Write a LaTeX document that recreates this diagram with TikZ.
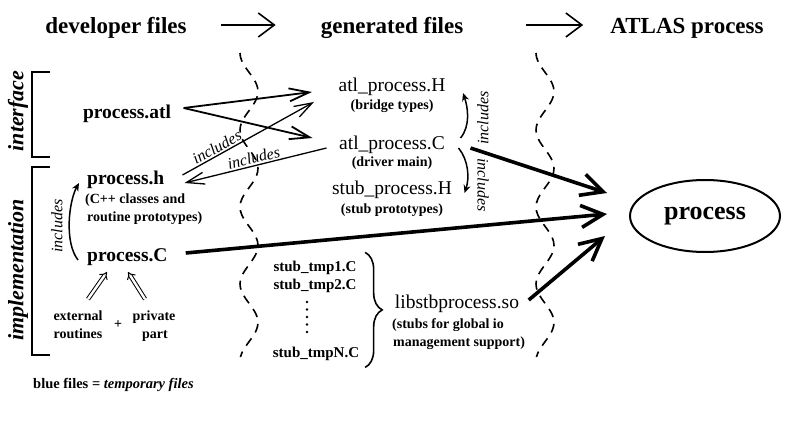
\documentclass[tikz,border=0pt]{standalone}
\usepackage{fontspec}
\setmainfont{Liberation Serif}
\usetikzlibrary{arrows.meta,shapes.geometric,calc,decorations.pathreplacing}

\tikzset{
  title/.style={font=\bfseries\fontsize{23}{26}\selectfont, inner sep=0pt, anchor=base},
  devfile/.style={font=\bfseries\fontsize{19.5}{22}\selectfont, inner sep=0pt, anchor=base},
  genfile/.style={font=\fontsize{19.5}{22}\selectfont, inner sep=0pt, anchor=base},
  note/.style={font=\bfseries\fontsize{14}{17}\selectfont, inner sep=0pt, anchor=base},
  stubfile/.style={font=\bfseries\fontsize{15}{18}\selectfont, inner sep=0pt, anchor=base},
  inclabel/.style={font=\itshape\fontsize{16}{18}\selectfont, inner sep=1.5pt},
  sidelabel/.style={font=\bfseries\itshape\fontsize{22}{24}\selectfont, rotate=90, inner sep=0pt},
  titlearrow/.style={line width=1.6pt, -{Straight Barb[length=16pt,width=24pt]}},
  filearrow/.style={line width=1.8pt, -{Straight Barb[length=20pt,width=13pt]}},
  incline/.style={line width=1.3pt, -{Straight Barb[length=18pt,width=12pt]}},
  incback/.style={line width=1.3pt, {Straight Barb[length=18pt,width=12pt]}-},
  bigarrow/.style={line width=3.6pt, -{Straight Barb[length=22pt,width=22pt]}},
  curvearrow/.style={line width=1.5pt, -{Stealth[length=8pt,width=7pt]}},
  dblarrow/.style={double, double distance=2.4pt, line width=1pt, -{Implies}},
  bracket/.style={line width=2pt},
  wave/.style={line width=1.6pt, dash pattern=on 9pt off 7pt},
  bracestyle/.style={line width=1.6pt, decorate, decoration={brace, amplitude=17pt}},
}

\begin{document}
\begin{tikzpicture}[x=1pt, y=-1pt]
\useasboundingbox (0,0) rectangle (785,425);

% column headings
\node[title] (tdev)   at (116,34) {developer files};
\node[title] (tgen)   at (392,34) {generated files};
\node[title] (tatlas) at (687,34) {ATLAS process};
\draw[titlearrow] ($(tdev.base east)+(34,-9)$) -- ($(tgen.base west)+(-45,-9)$);
\draw[titlearrow] ($(tgen.base east)+(63,-9)$) -- ($(tatlas.base west)+(-27,-9)$);

% column separators (period 77, 360/77 = 4.6753 deg per unit)
\draw[wave] plot[smooth, samples=80, domain=53:357] ({249-9*cos(4.6753*(\x-53))}, \x);
\draw[wave] plot[smooth, samples=80, domain=53:357] ({545-9*cos(4.6753*(\x-53))}, \x);

% side brackets
\draw[bracket] (50,72) -- (32,72) -- (32,157) -- (50,157);
\draw[bracket] (50,167) -- (32,167) -- (32,355) -- (50,355);
\node[sidelabel] (lint) at (18,111) {interface};
\node[sidelabel] (limp) at (18,270) {implementation};

% developer files
\node[devfile] (patl) at (127,119) {process.atl};
\node[devfile, anchor=base west] (ph) at (87,185) {process.h};
\node[note, anchor=base west] (phd1) at (85,204) {(C++ classes and};
\node[note, anchor=base west] (phd2) at (87,222) {routine prototypes)};
\node[devfile, anchor=base west] (pC) at (87,261) {process.C};
\node[note] (ext1)  at (78,320) {external};
\node[note] (ext2)  at (78,338) {routines};
\node[note] (priv1) at (154,320) {private};
\node[note] (priv2) at (155,338) {part};
\node[note, anchor=center] (plus) at (118,325) {+};

% generated files
\node[genfile] (aph) at (392,92) {atl\_process.H};
\node[note] (aphd) at (392,110) {(bridge types)};
\node[genfile] (apc) at (392,150) {atl\_process.C};
\node[note] (apcd) at (392,167) {(driver main)};
\node[genfile] (sph) at (392,195) {stub\_process.H};
\node[note] (sphd) at (392,213) {(stub prototypes)};

\node[stubfile] (s1) at (315,271) {stub\_tmp1.C};
\node[stubfile] (s2) at (315,289) {stub\_tmp2.C};
\node[stubfile] (sN) at (316,357) {stub\_tmpN.C};
\foreach \yy in {302,309.5,317,324.5,332} \fill (307,\yy) circle (1.4pt);
\draw[bracestyle] ($(s1.north east)+(8.5,-8)$) -- ($(s1.north east |- sN.south)+(8.5,7)$);

\node[genfile] (lib) at (457,308) {libstbprocess.so};
\node[note, anchor=base west] (libd1) at (392,328) {(stubs for global io};
\node[note, anchor=base west] (libd2) at (393,346) {management support)};

% target
\node[ellipse, draw, line width=2pt, minimum width=150pt, minimum height=72pt,
      inner sep=0pt, font=\bfseries\fontsize{26}{28}\selectfont] (proc) at (705,216) {process};

% legend
\node[font=\fontsize{14.5}{17}\selectfont, inner sep=0pt, anchor=base west] (legend) at (33,388)
  {\bfseries blue files = \itshape temporary files};

% process.atl generates the bridge sources
\draw[filearrow] ($(patl.base east)+(12.5,-11)$) -- ($(aph.base west)+(-26.5,0)$);
\draw[filearrow] ($(patl.base east)+(12.5,-11)$) -- ($(apc.base west)+(-26.5,-12)$);

% include relations
\draw[incline] ($(ph.base east)+(18,-10)$) -- ($(aph.base west)+(-24.5,10)$)
  node[inclabel, sloped, above, pos=0.29] (incA) {includes};
\draw[incback] ($(ph.base east)+(20,-2)$) -- ($(apc.base west)+(-12.5,-2)$)
  node[inclabel, sloped, above, pos=0.5] (incB) {includes};

\draw[curvearrow] ($(pC.base west)+(-9,-1)$) .. controls +(-14,-18) and +(-10,18) .. ($(ph.base west)+(-8,-2)$);
\node[inclabel, rotate=90] (incL) at (57,226) {includes};

\draw[curvearrow] ($(apc.base east)+(15.5,-12)$) .. controls +(10,-12) and +(5,15) .. ($(aph.base east)+(17.5,1)$);
\node[inclabel, rotate=90] (incU) at (483,118) {includes};
\draw[curvearrow] ($(apc.base east)+(13.5,-2)$) .. controls +(10,12) and +(5,-15) .. ($(sph.base east)+(12.5,-2)$);
\node[inclabel, rotate=-90] (incD) at (483,185) {includes};

% inputs of process.C
\draw[dblarrow] ($(ext1.north)+(10,-11)$) -- ($(pC.base west)+(20,11)$);
\draw[dblarrow] ($(priv1.north)+(-9,-11)$) -- ($(pC.base west)+(41,11)$);

% everything goes into the ATLAS process
\draw[bigarrow] ($(apc.base east)+(25.5,-2)$) -- ($(proc.west)+(-22,-23)$);
\draw[bigarrow] ($(pC.base east)+(18,-8)$) -- ($(proc.west)+(-22,-2)$);
\draw[bigarrow] ($(lib.base east)+(9.5,-8)$) -- ($(proc.west)+(-24,20)$);
\end{tikzpicture}
\end{document}
